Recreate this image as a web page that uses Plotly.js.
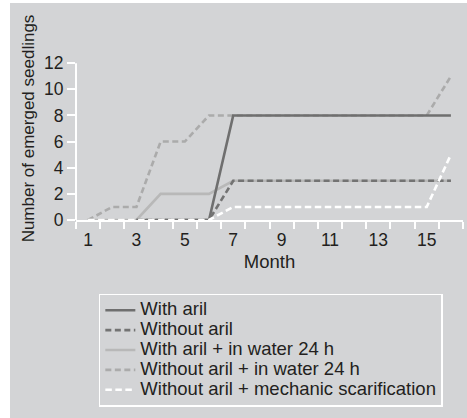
<!DOCTYPE html>
<html>
<head>
<meta charset="utf-8">
<script src="https://cdn.plot.ly/plotly-3.0.1.min.js"></script>
<style>
  html, body { margin: 0; padding: 0; background: #ffffff; }
  #chart { position: absolute; left: 10px; top: 3px; width: 457px; height: 415px; }
</style>
</head>
<body>
<div id="chart"></div>
<script>
// ---- data ----
var months = [1, 2, 3, 4, 5, 6, 7, 8, 9, 10, 11, 12, 13, 14, 15, 16];
var withAril = [null, null, 0, 0, 0, 0, 8, 8, 8, 8, 8, 8, 8, 8, 8, 8];
var withoutAril = [null, null, 0, 0, 0, 0, 3, 3, 3, 3, 3, 3, 3, 3, 3, 3];
var withArilWater = [0, 0, 0, 2, 2, 2, 3, 3, 3, 3, 3, 3, 3, 3, 3, 3];
var withoutArilWater = [0, 1, 1, 6, 6, 8, 8, 8, 8, 8, 8, 8, 8, 8, 8, 11];
var withoutArilScar = [0, 0, 0, 0, 0, 0, 1, 1, 1, 1, 1, 1, 1, 1, 1, 5];

var names = [
  "With aril",
  "Without aril",
  "With aril + in water 24 h",
  "Without aril + in water 24 h",
  "Without aril + mechanic scarification"
];
var xTickVals = [1, 3, 5, 7, 9, 11, 13, 15];
var xTickText = ["1", "3", "5", "7", "9", "11", "13", "15"];
var xBoundaries = [0.5, 1.5, 2.5, 3.5, 4.5, 5.5, 6.5, 7.5, 8.5, 9.5, 10.5, 11.5, 12.5, 13.5, 14.5, 15.5, 16.5];
var yTickVals = [0, 2, 4, 6, 8, 10, 12];

var textColor = "#231f20";
function legendLabel(s) {
  return '<span style="font-size:18.5px">' + s + '</span>';
}

function mk(y, name, color, dash, rank) {
  return {
    x: months, y: y, type: "scatter", mode: "lines",
    name: legendLabel(name),
    legendrank: rank,
    connectgaps: false,
    line: { color: color, width: 2.6, dash: dash },
    hoverinfo: "skip"
  };
}

var data = [
  mk(withoutArilWater, names[3], "#ababab", "6px,3.5px", 4),
  mk(withArilWater, names[2], "#b8b8b8", "solid", 3),
  mk(withAril, names[0], "#6f6f6f", "solid", 1),
  mk(withoutAril, names[1], "#737373", "6px,3.5px", 2),
  mk(withoutArilScar, names[4], "#ffffff", "6.5px,3.5px", 5)
];

var layout = {
  width: 457,
  height: 415,
  margin: { l: 66, r: 4, t: 33.6, b: 198 },
  paper_bgcolor: "#d3d4d6",
  plot_bgcolor: "#d3d4d6",
  font: { family: "Liberation Sans, Arial, sans-serif", color: textColor },
  showlegend: true,
  xaxis: {
    range: [0.5, 16.5],
    showgrid: false,
    zeroline: false,
    showline: true,
    linecolor: "#ffffff",
    linewidth: 2,
    tickmode: "array",
    tickvals: xTickVals,
    ticktext: xTickText,
    ticks: "outside",
    ticklen: 3,
    tickwidth: 2,
    tickcolor: "rgba(0,0,0,0)",
    tickfont: { size: 17.5, color: textColor },
    minor: {
      tickmode: "array",
      tickvals: xBoundaries,
      ticks: "outside",
      ticklen: 7,
      tickwidth: 2,
      tickcolor: "#ffffff",
      showgrid: false
    },
    title: { text: "Month", font: { size: 18.5, color: textColor }, standoff: 6 },
    fixedrange: true
  },
  yaxis: {
    range: [0, 14],
    showgrid: false,
    zeroline: false,
    showline: false,
    tickmode: "array",
    tickvals: yTickVals,
    ticks: "outside",
    ticklen: 8,
    tickwidth: 2,
    tickcolor: "#ffffff",
    tickfont: { size: 17.5, color: textColor },
    title: { text: "Number of emerged seedlings", font: { size: 17, color: textColor }, standoff: 5 },
    fixedrange: true
  },
  shapes: [
    {
      type: "line", xref: "paper", yref: "y",
      x0: 0, x1: 0, y0: 0, y1: 12,
      line: { color: "#ffffff", width: 2 },
      layer: "below"
    }
  ],
  legend: {
    x: 0.059, y: -0.403,
    xanchor: "left", yanchor: "top",
    bgcolor: "rgba(0,0,0,0)",
    bordercolor: "#ffffff",
    borderwidth: 1.5,
    font: { size: 13, color: textColor },
    traceorder: "normal"
  }
};

Plotly.newPlot("chart", data, layout, { displayModeBar: false, staticPlot: true });
</script>
</body>
</html>
